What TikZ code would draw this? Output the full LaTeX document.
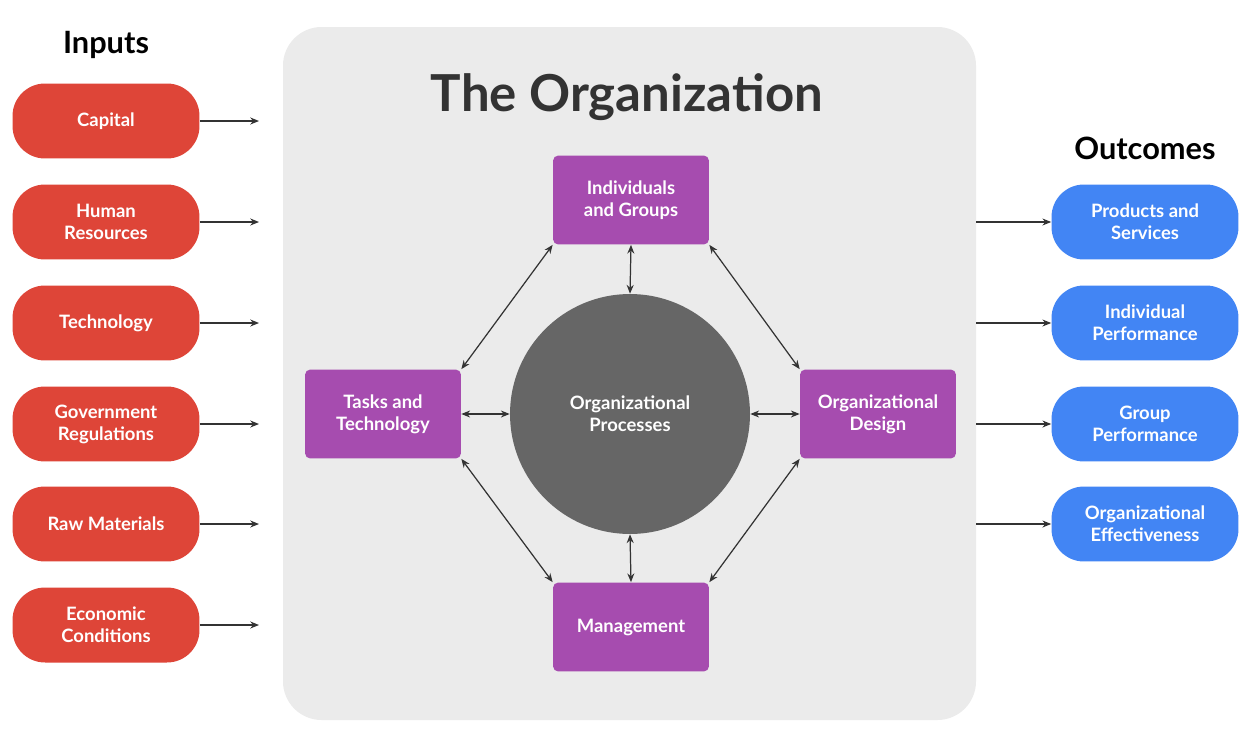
\documentclass[tikz,border=0pt]{standalone}
\usepackage{fontspec}
\setmainfont{Lato}
\usetikzlibrary{arrows.meta}
\definecolor{redc}{HTML}{DE4538}
\definecolor{bluec}{HTML}{4285F4}
\definecolor{purc}{HTML}{A64CAF}
\definecolor{grayb}{HTML}{EBEBEB}
\definecolor{circc}{HTML}{666666}
\definecolor{ink}{HTML}{333333}
\begin{document}
\begin{tikzpicture}[x=0.02cm,y=-0.02cm,
  pill/.style={rounded corners=18.5pt,minimum width=3.74cm,minimum height=1.5cm,text=white,font=\fontsize{10.5}{12.5}\selectfont\bfseries,align=center,inner sep=0pt},
  inp/.style={pill,fill=redc},
  outp/.style={pill,fill=bluec},
  box/.style={fill=purc,rounded corners=3pt,minimum width=3.12cm,minimum height=1.78cm,text=white,font=\fontsize{10.5}{12.5}\selectfont\bfseries,align=center,inner sep=0pt},
  arr/.style={-{Stealth[length=5pt,width=4pt]},ink,line width=0.7pt},
  darr/.style={{Stealth[length=5pt,width=4pt]}-{Stealth[length=5pt,width=4pt]},ink,line width=0.7pt},
  hdr/.style={font=\fontsize{17.5}{20}\selectfont\bfseries,text=black}]
\useasboundingbox[fill=white] (0,0) rectangle (1251,747);
\fill[grayb,rounded corners=22pt] (283,27) rectangle (976,720);
\node[font=\fontsize{29}{34}\selectfont\bfseries,text=ink] (title) at (627,97) {The Organization};
\node[hdr] (inputs) at (106,45) {Inputs};
\node[hdr] (outcomes) at (1145,148) {Outcomes};
% inputs
\foreach \n/\y/\t in {i1/121/Capital,i2/222/Human\\Resources,i3/323/Technology,i4/424/Government\\Regulations,i5/524/Raw Materials,i6/625/Economic\\Conditions}{
  \node[inp] (\n) at (106,\y) {\t};
  \coordinate (\n e) at (259,\y);
  \draw[arr] (\n.east) -- (\n e);
}
% outcomes
\foreach \n/\y/\t in {o1/222/Products and\\Services,o2/323/Individual\\Performance,o3/424/Group\\Performance,o4/524/Organizational\\Effectiveness}{
  \node[outp] (\n) at (1145,\y) {\t};
  \coordinate (\n s) at (976,\y);
  \draw[arr] (\n s) -- (\n.west);
}
% center
\node[circle,fill=circc,minimum size=4.8cm,inner sep=0pt,text=white,font=\fontsize{10.5}{12.5}\selectfont\bfseries,align=center] (proc) at (630,414) {Organizational\\Processes};
\node[box] (ig) at (631,200) {Individuals\\and Groups};
\node[box] (tt) at (383,414) {Tasks and\\Technology};
\node[box] (od) at (878,414) {Organizational\\Design};
\node[box] (mg) at (631,627) {Management};
\draw[darr] (ig.south) -- (proc.north);
\draw[darr] (tt.east) -- (proc.west);
\draw[darr] (proc.east) -- (od.west);
\draw[darr] (proc.south) -- (mg.north);
\draw[darr] (ig.south west) -- (tt.north east);
\draw[darr] (ig.south east) -- (od.north west);
\draw[darr] (tt.south east) -- (mg.north west);
\draw[darr] (od.south west) -- (mg.north east);
\end{tikzpicture}
\end{document}
